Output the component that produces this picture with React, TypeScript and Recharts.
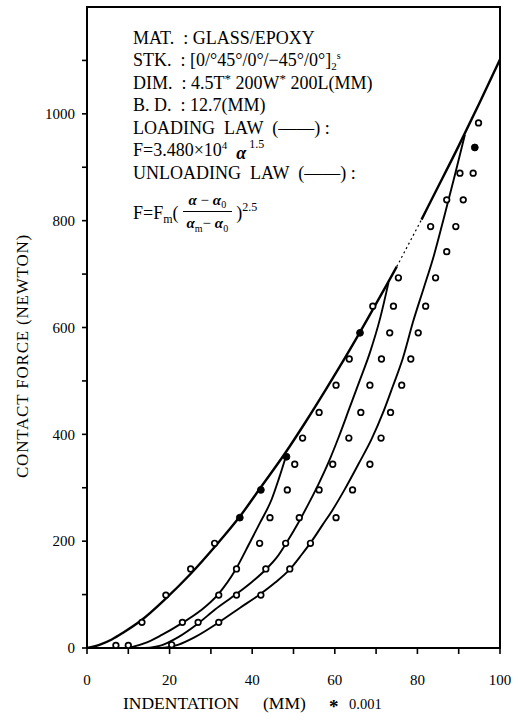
import React from 'react';
import { ComposedChart, Line, Scatter, XAxis, YAxis, ReferenceArea, Label } from 'recharts';

// ---- curves ----
const loadX = [0, 3, 6, 9, 13, 19, 25, 31, 37, 42, 48, 53, 58, 63, 68, 73, 75];
const loadY = [0, 6, 16, 30, 51, 92, 138, 190, 246, 300, 365, 424, 486, 550, 617, 686, 714];
const loadGapX = [75, 78, 81];
const loadGapY = [714, 758, 802];
const loadTopX = [81, 84, 90, 95, 100];
const loadTopY = [802, 848, 940, 1020, 1102];

const u1X = [9, 11, 14, 18, 22.9, 27.5, 31.7, 36, 39.4, 42, 44.7, 46.5, 48.3];
const u1Y = [0, 2, 9, 24, 46, 70, 100, 147, 197, 236, 278, 318, 362];

const u2X = [14, 18, 22, 26.9, 31, 36, 40, 43.3, 46, 48.3, 51, 53.5, 56, 58.5, 61, 63.5, 66, 68.5, 71, 73];
const u2Y = [0, 5, 20, 46, 72, 100, 124, 147, 170, 197, 232, 268, 306, 348, 396, 448, 500, 553, 618, 684];

const u3X = [18, 22, 26, 31.9, 37, 41.8, 45.5, 49.1, 52, 54.5, 57, 59.5, 62.4, 65.7, 68.9, 71.7, 74.1, 76.5, 79, 81.5, 84, 86.5, 89, 91.5];
const u3Y = [0, 6, 20, 48, 75, 100, 122, 147, 175, 201, 230, 259, 297, 344, 391, 441, 491, 543, 612, 673, 735, 808, 883, 961];

// ---- measured points (open circles) ----
const loadMarkX = [13.3, 19.1, 25.1, 30.9, 52.2, 56.2, 60.3, 63.5, 69.2, 75.4, 83.2, 87.1, 90.3];
const loadMarkY = [48, 99, 148, 196, 393, 441, 492, 541, 640, 693, 789, 839, 889];
const u1MarkX = [23.1, 31.9, 36.2, 41.8, 44.3, 48.5, 50.3];
const u1MarkY = [48, 99, 148, 196, 244, 296, 344];
const u2MarkX = [26.9, 36.2, 43.3, 48.1, 51.4, 56.2, 59.5, 63.4, 66.3, 68.5, 71.3, 73.3, 74.2];
const u2MarkY = [48, 99, 148, 196, 244, 296, 344, 393, 441, 492, 541, 590, 640];
const u3MarkX = [31.9, 42.1, 49.1, 54.1, 60.3, 64.3, 68.5, 71.2, 73.5, 76.2, 78.4, 80.2, 82.0, 84.4, 87.1, 89.3, 91.1, 93.5, 94.8];
const u3MarkY = [48, 99, 148, 196, 244, 296, 344, 393, 441, 492, 541, 590, 640, 693, 742, 789, 839, 889, 983];
const baseMarkX = [7, 10, 20.5];
const baseMarkY = [5, 5, 6];
// filled-looking points
const solidMarkX = [37.0, 42.1, 48.3, 66.1, 93.9];
const solidMarkY = [244, 296, 358, 590, 937];

const xTicks = [0, 10, 20, 30, 40, 50, 60, 70, 80, 90, 100];
const yTicks = [0, 100, 200, 300, 400, 500, 600, 700, 800, 900, 1000, 1100];

const zip = (xs: number[], ys: number[]) => xs.map((x, i) => ({ x, y: ys[i] }));

const openMarks = [
  ...zip(loadMarkX, loadMarkY),
  ...zip(u1MarkX, u1MarkY),
  ...zip(u2MarkX, u2MarkY),
  ...zip(u3MarkX, u3MarkY),
  ...zip(baseMarkX, baseMarkY),
];
const solidMarks = zip(solidMarkX, solidMarkY);

const SERIF = 'serif';

const OpenDot = (p: any) => (
  <circle cx={p.cx} cy={p.cy} r={2.8} fill="#fff" stroke="#000" strokeWidth={1.7} />
);
const SolidDot = (p: any) => (
  <circle cx={p.cx} cy={p.cy} r={3.4} fill="#000" stroke="#000" strokeWidth={1} />
);

const lineProps = {
  type: 'monotone' as const,
  dataKey: 'y',
  stroke: '#000',
  dot: false,
  activeDot: false,
  isAnimationActive: false,
  legendType: 'none' as const,
};

const txt: React.CSSProperties = { whiteSpace: 'pre', height: 22.5 };
const sup = (top: number, size: number): React.CSSProperties => ({
  position: 'relative',
  top,
  fontSize: size,
  lineHeight: 0,
});

export default function App() {
  return (
    <div style={{ position: 'absolute', left: 0, top: 0, width: 518, height: 724, background: '#fff' }}>
      <ComposedChart width={518} height={724} margin={{ top: 7, right: 18, bottom: 0, left: 0 }}>
        <XAxis
          type="number"
          dataKey="x"
          domain={[0, 100]}
          ticks={xTicks}
          interval={0}
          allowDataOverflow
          tickFormatter={(v: number) => (v % 20 === 0 ? String(v) : '')}
          tick={{ fill: '#000', fontSize: 15, fontFamily: SERIF }}
          tickSize={6}
          tickMargin={20}
          axisLine={{ stroke: '#000', strokeWidth: 2 }}
          tickLine={{ stroke: '#000', strokeWidth: 1.6 }}
          height={76}
        >
          <Label
            content={() => (
              <text x={123} y={709} fontFamily={SERIF} fontSize={17.5} fill="#000">
                <tspan x={123}>INDENTATION</tspan>
                <tspan x={263}>(MM)</tspan>
                <tspan x={329} dy={4} fontSize={19} fontWeight="bold">*</tspan>
                <tspan x={349} dy={-4} fontSize={14.5}>0.001</tspan>
              </text>
            )}
          />
        </XAxis>
        <YAxis
          type="number"
          dataKey="y"
          domain={[0, 1200]}
          ticks={yTicks}
          interval={0}
          allowDataOverflow
          tickFormatter={(v: number) => (v % 200 === 0 && v <= 1000 ? String(v) : '')}
          tick={{ fill: '#000', fontSize: 15, fontFamily: SERIF }}
          tickSize={5}
          tickMargin={7}
          axisLine={{ stroke: '#000', strokeWidth: 2 }}
          tickLine={{ stroke: '#000', strokeWidth: 1.6 }}
          width={87}
        >
          <Label
            content={() => (
              <text
                x={22}
                y={356}
                transform="rotate(-90, 22, 356)"
                textAnchor="middle"
                dominantBaseline="central"
                fontFamily={SERIF}
                fontSize={17}
                letterSpacing={0.8}
                fill="#000"
              >
                CONTACT FORCE (NEWTON)
              </text>
            )}
          />
        </YAxis>
        <ReferenceArea
          x1={0}
          x2={100}
          y1={0}
          y2={1200}
          fill="none"
          fillOpacity={0}
          stroke="#000"
          strokeWidth={2}
          ifOverflow="visible"
        />
        <Line {...lineProps} data={zip(loadX, loadY)} strokeWidth={2.4} />
        <Line {...lineProps} data={zip(loadGapX, loadGapY)} strokeWidth={1.2} strokeDasharray="2 3" />
        <Line {...lineProps} data={zip(loadTopX, loadTopY)} strokeWidth={2.4} />
        <Line {...lineProps} data={zip(u1X, u1Y)} strokeWidth={1.9} />
        <Line {...lineProps} data={zip(u2X, u2Y)} strokeWidth={1.9} />
        <Line {...lineProps} data={zip(u3X, u3Y)} strokeWidth={1.9} />
        <Scatter data={openMarks} dataKey="y" shape={OpenDot} isAnimationActive={false} legendType="none" />
        <Scatter data={solidMarks} dataKey="y" shape={SolidDot} isAnimationActive={false} legendType="none" />
      </ComposedChart>

      <div
        style={{
          position: 'absolute',
          left: 133,
          top: 26.6,
          fontFamily: SERIF,
          fontSize: 18,
          lineHeight: '22.5px',
          color: '#000',
        }}
      >
        <div style={txt}>MAT.  : GLASS/EPOXY</div>
        <div style={txt}>
          STK.  : [0/°45°/0°/−45°/0°]
          <span style={sup(4, 11)}>2</span>
          <span style={sup(-7, 10)}>s</span>
        </div>
        <div style={txt}>
          DIM.  : 4.5T<span style={sup(-6, 13)}>*</span> 200W<span style={sup(-6, 13)}>*</span> 200L(MM)
        </div>
        <div style={txt}>B. D.  : 12.7(MM)</div>
        <div style={txt}>LOADING  LAW  (——) :</div>
        <div style={txt}>
          F=3.480×10<span style={sup(-7, 11)}>4</span>
          {'  '}
          <span style={{ fontWeight: 'bold', fontStyle: 'italic', position: 'relative', top: 3 }}>α</span>
          <span style={sup(-8, 12)}> 1.5</span>
        </div>
        <div style={txt}>UNLOADING  LAW  (——) :</div>
      </div>

      <div
        style={{
          position: 'absolute',
          left: 133,
          top: 191,
          display: 'flex',
          alignItems: 'center',
          fontFamily: SERIF,
          fontSize: 18,
          lineHeight: '20px',
          color: '#000',
          whiteSpace: 'pre',
        }}
      >
        <span>
          F=F<span style={sup(4, 12)}>m</span>(
        </span>
        <span style={{ display: 'inline-flex', flexDirection: 'column', alignItems: 'center', margin: '0 4px', fontSize: 15 }}>
          <span style={{ borderBottom: '1.2px solid #000', padding: '0 6px 2px 6px', lineHeight: '18px' }}>
            <b><i>α</i></b> − <b><i>α</i></b>
            <span style={sup(3, 10)}>0</span>
          </span>
          <span style={{ lineHeight: '22px' }}>
            <b><i>α</i></b>
            <span style={sup(4, 10)}>m</span>− <b><i>α</i></b>
            <span style={sup(4, 10)}>0</span>
          </span>
        </span>
        <span>
          )<span style={sup(-8, 12)}>2.5</span>
        </span>
      </div>
    </div>
  );
}
